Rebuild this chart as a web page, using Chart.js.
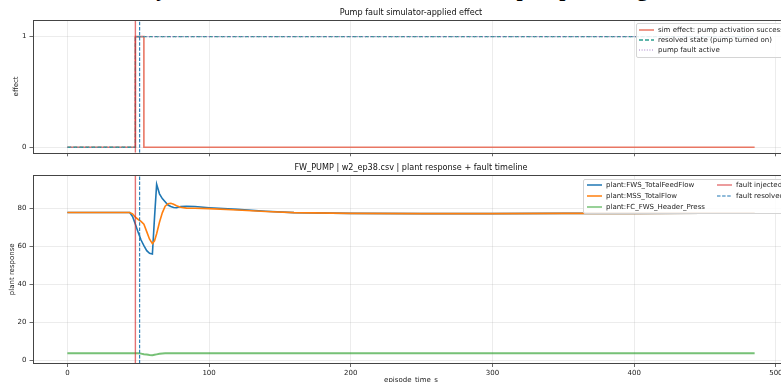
<!DOCTYPE html>
<html><head><meta charset="utf-8">
<script src="https://cdn.jsdelivr.net/npm/chart.js@4.4.1/dist/chart.umd.min.js"></script>
<style>
html,body{margin:0;padding:0;background:#fff;}
body{width:781px;height:382px;overflow:hidden;position:relative;font-family:"DejaVu Sans",sans-serif;}
#suptitle{position:absolute;left:122px;top:-22px;font:bold 22px "Liberation Serif",serif;color:#000;white-space:nowrap;line-height:22px;}
#w1{position:absolute;left:0;top:0;}
#w2{position:absolute;left:0;top:155px;}
.leg{position:absolute;background:rgba(255,255,255,0.85);border:1px solid #d4d4d4;border-radius:2px;font-size:7px;color:#222;white-space:nowrap;}
.row{position:absolute;display:flex;align-items:center;height:10px;}
.row svg{margin-right:4px;}
</style>
</head><body>
<div id="suptitle">Why the FW fault was cleared at last: the pump is on again</div>
<div id="w1"><canvas id="c1" width="822" height="160"></canvas></div>
<div id="w2"><canvas id="c2" width="822" height="230"></canvas></div>
<div id="leg1" class="leg" style="left:636px;top:23px;width:170px;height:33px;"></div>
<div id="leg2" class="leg" style="left:583px;top:179px;width:230px;height:33px;"></div>
<script>
// ---- data ----
const effectTime    = [0, 48, 48, 54, 54, 485];
const simEffect     = [0, 0, 1, 1, 0, 0];
const stateTime     = [0, 48, 48, 485];
const resolvedState = [0, 0, 1, 1];
const faultActive   = [0, 0, 1, 1];
const faultInjectedT = 48;
const faultResolvedT = 51;

const plantTime        = [0, 44, 46, 48, 50, 52, 54, 56, 58, 60, 61.5, 63, 65, 67, 69, 71, 73, 75, 77, 80, 84, 90, 100, 120, 140, 160, 200, 250, 300, 350, 400, 450, 485];
const fwsTotalFeedFlow = [77.7, 77.7, 75.6, 71.5, 67.2, 63.2, 60.2, 57.6, 56.2, 55.8, 75.0, 92.5, 87.5, 85.0, 83.3, 81.6, 80.8, 80.3, 80.2, 80.8, 81.0, 80.8, 80.2, 79.3, 78.3, 77.6, 77.2, 77.1, 77.1, 77.2, 77.2, 77.3, 77.3];
const mssTotalFlow     = [77.7, 77.7, 77.0, 75.2, 74.0, 73.0, 71.5, 67.6, 63.6, 61.3, 62.8, 66.5, 72.5, 77.5, 81.0, 82.3, 82.5, 82.0, 81.2, 80.4, 80.0, 79.9, 79.7, 79.0, 78.2, 77.6, 77.2, 77.1, 77.1, 77.2, 77.2, 77.3, 77.3];
const fcFwsHeaderPress = [3.6, 3.6, 3.6, 3.6, 3.6, 3.4, 3.1, 2.9, 2.7, 2.6, 2.8, 3.0, 3.3, 3.5, 3.6, 3.6, 3.6, 3.6, 3.6, 3.6, 3.6, 3.6, 3.6, 3.6, 3.6, 3.6, 3.6, 3.6, 3.6, 3.6, 3.6, 3.6, 3.6];

const xTicks      = [0, 100, 200, 300, 400, 500];
const yTicksTop   = [0, 1];
const yTicksPlant = [0, 20, 40, 60, 80];

// ---- helpers ----
const FONT = '"DejaVu Sans", sans-serif';
const pts = (t, v) => t.map((x, i) => ({x: x, y: v[i]}));
const X_MIN = -24.25, X_MAX = 509.25;
const TOP_MIN = -0.05, TOP_MAX = 1.15;
const PL_MIN = -1.8, PL_MAX = 97.4;

const C = {
  sim: 'rgba(232,112,92,0.95)', res: '#2a9d8f', act: 'rgba(148,103,189,0.85)',
  inj: 'rgba(214,39,40,0.65)', rsv: '#1f77b4',
  fws: '#1f77b4', mss: '#ff7f0e', fc: 'rgba(44,160,44,0.65)'
};

const boxPlugin = {
  id: 'box',
  afterDraw(chart) {
    const a = chart.chartArea, ctx = chart.ctx;
    ctx.save();
    ctx.strokeStyle = '#444'; ctx.lineWidth = 1;
    ctx.strokeRect(Math.round(a.left) + 0.5, Math.round(a.top) + 0.5, Math.round(a.right - a.left), Math.round(a.bottom - a.top));
    ctx.restore();
  }
};

function xScale(showLabels, axisH, title) {
  return {
    type: 'linear', min: X_MIN, max: X_MAX,
    afterBuildTicks: ax => { ax.ticks = xTicks.map(v => ({value: v})); },
    afterFit: ax => { ax.height = axisH; },
    ticks: {display: showLabels, color: '#222', font: {size: 7, family: FONT}, padding: 1.5, maxRotation: 0, autoSkip: false},
    grid: {color: 'rgba(176,176,176,0.3)', lineWidth: 0.8, tickColor: '#444', tickLength: 3.5, drawTicks: true},
    border: {display: false},
    title: title ? {display: true, text: title, color: '#222', font: {size: 7, family: FONT}, padding: {top: 0, bottom: 0.5}} : {display: false}
  };
}
function yScale(min, max, ticks, title, titlePad) {
  return {
    type: 'linear', min: min, max: max,
    afterBuildTicks: ax => { ax.ticks = ticks.map(v => ({value: v})); },
    afterFit: ax => { ax.width = 33; },
    ticks: {color: '#222', font: {size: 7, family: FONT}, padding: 3},
    grid: {color: 'rgba(176,176,176,0.3)', lineWidth: 0.8, tickColor: '#444', tickLength: 3.5},
    border: {display: false},
    title: {display: true, text: title, color: '#222', font: {size: 7, family: FONT}, padding: {top: titlePad, bottom: 0}}
  };
}
// empty right-hand axis: reserves the space right of the plot so the title centres on the axes
const spacerY = {
  position: 'right', display: true, min: 0, max: 1,
  afterFit: ax => { ax.width = 33; },
  ticks: {display: false}, grid: {display: false, drawTicks: false}, border: {display: false}
};
function line(label, data, color, width, dash, order) {
  return {label: label, data: data, borderColor: color, backgroundColor: color, borderWidth: width,
          borderDash: dash || [], pointRadius: 0, tension: 0, fill: false, order: order};
}
function titleOpt(text) {
  return {display: true, text: text, color: '#111', font: {size: 8.1, family: FONT, weight: 'normal'}, padding: {top: 8, bottom: 2.3}};
}

// ---- top chart ----
const topDatasets = [
  line('sim effect: pump activation success', pts(effectTime, simEffect), C.sim, 1.6, null, 5),
  line('resolved state (pump turned on)', pts(stateTime, resolvedState), C.res, 1.3, [4, 2], 4),
  line('pump fault active', pts(stateTime, faultActive), C.act, 1.2, [1, 1.6], 3),
  line('fault injected', [{x: faultInjectedT, y: TOP_MIN}, {x: faultInjectedT, y: TOP_MAX}], C.inj, 1.4, null, 2),
  line('fault resolved', [{x: faultResolvedT, y: TOP_MIN}, {x: faultResolvedT, y: TOP_MAX}], C.rsv, 1.1, [3.5, 1.6], 1)
];
new Chart(document.getElementById('c1'), {
  type: 'line',
  data: {datasets: topDatasets},
  options: {
    responsive: false, animation: false, devicePixelRatio: 1,
    layout: {padding: 0},
    plugins: {legend: {display: false}, tooltip: {enabled: false}, title: titleOpt('Pump fault simulator-applied effect')},
    scales: {x: xScale(false, 7, null), y: yScale(TOP_MIN, TOP_MAX, yTicksTop, 'effect', 12), y2: spacerY}
  },
  plugins: [boxPlugin]
});

// ---- bottom chart ----
const botDatasets = [
  line('plant:FWS_TotalFeedFlow', pts(plantTime, fwsTotalFeedFlow), C.fws, 1.6, null, 6),
  line('plant:MSS_TotalFlow', pts(plantTime, mssTotalFlow), C.mss, 1.6, null, 5),
  line('plant:FC_FWS_Header_Press', pts(plantTime, fcFwsHeaderPress), C.fc, 2.0, null, 4),
  line('fault injected', [{x: faultInjectedT, y: PL_MIN}, {x: faultInjectedT, y: PL_MAX}], C.inj, 1.4, null, 2),
  line('fault resolved', [{x: faultResolvedT, y: PL_MIN}, {x: faultResolvedT, y: PL_MAX}], C.rsv, 1.1, [3.5, 1.6], 1)
];
new Chart(document.getElementById('c2'), {
  type: 'line',
  data: {datasets: botDatasets},
  options: {
    responsive: false, animation: false, devicePixelRatio: 1,
    layout: {padding: 0},
    plugins: {legend: {display: false}, tooltip: {enabled: false}, title: titleOpt('FW_PUMP | w2_ep38.csv | plant response + fault timeline')},
    scales: {x: xScale(true, 21.5, 'episode_time_s'), y: yScale(PL_MIN, PL_MAX, yTicksPlant, 'plant response', 8), y2: spacerY}
  },
  plugins: [boxPlugin]
});

// ---- legends (built from the dataset definitions) ----
function handle(ds) {
  const dash = ds.borderDash && ds.borderDash.length ? ` stroke-dasharray="${ds.borderDash.join(',')}"` : '';
  return `<svg width="15" height="6"><line x1="0" y1="3" x2="15" y2="3" stroke="${ds.borderColor}" stroke-width="${Math.min(ds.borderWidth, 1.5)}"${dash}/></svg>`;
}
function addRow(el, ds, left, top) {
  const r = document.createElement('div');
  r.className = 'row';
  r.style.left = left + 'px'; r.style.top = top + 'px';
  r.innerHTML = handle(ds) + '<span>' + ds.label + '</span>';
  el.appendChild(r);
}
const l1 = document.getElementById('leg1');
[0, 1, 2].forEach((i, k) => addRow(l1, topDatasets[i], 2, 1 + k * 10.2));
const l2 = document.getElementById('leg2');
[0, 1, 2].forEach((i, k) => addRow(l2, botDatasets[i], 3, 0 + k * 10.8));
[3, 4].forEach((i, k) => addRow(l2, botDatasets[i], 133, 0 + k * 10.8));
</script>
</body></html>
